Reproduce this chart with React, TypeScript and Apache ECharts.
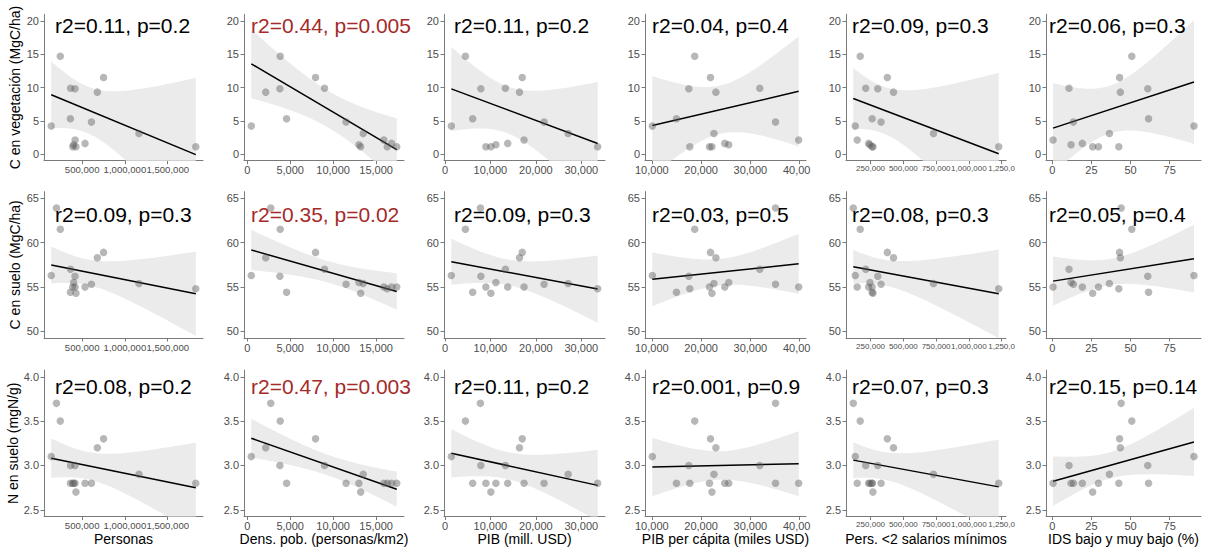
import React, { useEffect, useRef } from "react";
import * as echarts from "echarts";

// 16 alcaldías, same order in every array
const alcaldias = [
  "Milpa Alta", "Cuajimalpa", "Magdalena Contreras", "Tláhuac", "Tlalpan", "Xochimilco",
  "Álvaro Obregón", "Coyoacán", "Miguel Hidalgo", "Azcapotzalco", "Iztacalco",
  "Benito Juárez", "Venustiano Carranza", "Cuauhtémoc", "Gustavo A. Madero", "Iztapalapa",
];

// explanatory variables (x)
const personas = [138000, 199000, 244000, 362000, 677000, 416000, 750000, 608000, 364000, 400000, 390000, 417000, 427000, 533000, 1164000, 1828000];
const densidad = [470, 2740, 3840, 4580, 2150, 3800, 7950, 11500, 9000, 13000, 17400, 15900, 13200, 16800, 13500, 16300];
const pib = [1400, 7800, 4500, 6100, 16400, 7900, 17000, 21800, 13300, 11200, 9000, 17400, 10100, 13800, 27100, 33600];
const pibPerCapita = [10100, 35100, 18700, 15000, 23000, 17500, 21900, 35100, 31900, 25600, 21700, 39800, 22200, 24800, 22600, 17700];
const persMenos2 = [133000, 118000, 171000, 262000, 425000, 305000, 378000, 330000, 213000, 245000, 262000, 148000, 268000, 235000, 730000, 1228000];
const ids = [90.5, 44.0, 50.8, 61.5, 43.5, 61.0, 43.0, 13.5, 10.7, 12.0, 29.5, 0.5, 25.8, 19.2, 36.5, 42.5];

// response variables (y)
const cVegetacion = [4.2, 25.8, 14.7, 5.3, 9.3, 9.8, 11.5, 4.8, 9.9, 1.4, 1.1, 2.1, 1.1, 1.6, 3.1, 1.1];
const cSuelo = [56.3, 63.9, 61.5, 54.4, 58.3, 56.2, 58.9, 55.3, 57.0, 55.5, 55.0, 55.0, 54.3, 55.0, 55.4, 54.8];
const nSuelo = [3.1, 3.7, 3.5, 2.8, 3.2, 3.0, 3.3, 2.8, 3.0, 2.8, 2.8, 2.8, 2.7, 2.8, 2.9, 2.8];

// axis titles
const xTitles = ["Personas", "Dens. pob. (personas/km2)", "PIB (mill. USD)", "PIB per cápita (miles USD)", "Pers. <2 salarios mínimos", "IDS bajo y muy bajo (%)"];
const yTitles = ["C en vegetación (MgC/ha)", "C en suelo (MgC/ha)", "N en suelo (mgN/g)"];

// tick values
const xTicks = [
  [500000, 1000000, 1500000],
  [0, 5000, 10000, 15000],
  [0, 10000, 20000, 30000],
  [10000, 20000, 30000, 40000],
  [250000, 500000, 750000, 1000000, 1250000],
  [0, 25, 50, 75],
];
const yTicks = [
  [0, 5, 10, 15, 20],
  [50, 55, 60, 65],
  [2.5, 3.0, 3.5, 4.0],
];
const yLimits = [
  [0, 20],
  [50, 65],
  [2.5, 4.0],
];

// annotation labels per row (columns left to right)
const statLabels = [
  ["r2=0.11, p=0.2", "r2=0.44, p=0.005", "r2=0.11, p=0.2", "r2=0.04, p=0.4", "r2=0.09, p=0.3", "r2=0.06, p=0.3"],
  ["r2=0.09, p=0.3", "r2=0.35, p=0.02", "r2=0.09, p=0.3", "r2=0.03, p=0.5", "r2=0.08, p=0.3", "r2=0.05, p=0.4"],
  ["r2=0.08, p=0.2", "r2=0.47, p=0.003", "r2=0.11, p=0.2", "r2=0.001, p=0.9", "r2=0.07, p=0.3", "r2=0.15, p=0.14"],
];
const significant = [
  [false, true, false, false, false, false],
  [false, true, false, false, false, false],
  [false, true, false, false, false, false],
];

const xData = [personas, densidad, pib, pibPerCapita, persMenos2, ids];
const yData = [cVegetacion, cSuelo, nSuelo];

// layout (pixels)
const colLeft = [44, 244, 444, 645, 846, 1046];
const colRight = [203, 404, 605, 806, 1006, 1201];
const rowTop = [14.3, 191.6, 370.1];
const rowHeight = 146.4;
const textX = [55, 251, 454, 652, 852, 1049];
const textY = [25, 214, 386];
const xLabelSizes = [9.6, 11, 11, 11, 8, 11];

const FONT = "Liberation Sans, Arial, sans-serif";
const AXIS_COLOR = "#7a7a7a";
const LABEL_COLOR = "#4d4d4d";
const T_975_DF14 = 2.1448;

const fmtComma = (v: number) => Math.round(v).toLocaleString("en-US");

function linFit(xs: number[], ys: number[]) {
  const n = xs.length;
  const mx = xs.reduce((s, v) => s + v, 0) / n;
  const my = ys.reduce((s, v) => s + v, 0) / n;
  let sxx = 0;
  let sxy = 0;
  for (let i = 0; i < n; i++) {
    sxx += (xs[i] - mx) * (xs[i] - mx);
    sxy += (xs[i] - mx) * (ys[i] - my);
  }
  const b = sxy / sxx;
  const a = my - b * mx;
  let sse = 0;
  for (let i = 0; i < n; i++) {
    const r = ys[i] - a - b * xs[i];
    sse += r * r;
  }
  const s = Math.sqrt(sse / (n - 2));
  return { a, b, mx, sxx, s, n };
}

function buildOption() {
  const grid: any[] = [];
  const xAxis: any[] = [];
  const yAxis: any[] = [];
  const series: any[] = [];
  const graphic: any[] = [];

  for (let r = 0; r < 3; r++) {
    for (let c = 0; c < 6; c++) {
      const i = r * 6 + c;
      const xs = xData[c];
      const ys = yData[r];
      const xmin = Math.min(...xs);
      const xmax = Math.max(...xs);
      const pad = (xmax - xmin) * 0.05;
      const [ylo, yhi] = yLimits[r];
      const ypad = (yhi - ylo) * 0.05;

      grid.push({
        left: colLeft[c],
        top: rowTop[r],
        width: colRight[c] - colLeft[c],
        height: rowHeight,
        containLabel: false,
      });

      const xLabelSize = xLabelSizes[c];
      const xFormatter = (v: number) => {
        if (c === 3 && v === 40000) return "{clip4|40,00}";
        if (c === 4 && v === 1250000) return "1,250,0";
        return c === 5 ? String(v) : fmtComma(v);
      };

      // ticks split over two overlaid axes so touching labels are all kept
      const evenTicks = xTicks[c].filter((_, k) => k % 2 === 0);
      const oddTicks = xTicks[c].filter((_, k) => k % 2 === 1);

      const makeX = (ticks: number[], primary: boolean) => ({
        type: "value",
        gridIndex: i,
        position: "bottom",
        offset: 0,
        min: xmin - pad,
        max: xmax + pad,
        splitLine: { show: false },
        axisLine: { show: primary, onZero: false, lineStyle: { color: AXIS_COLOR, width: 1 } },
        axisTick: { show: true, length: 3.5, customValues: ticks, lineStyle: { color: AXIS_COLOR, width: 1 } },
        axisLabel: {
          customValues: ticks,
          formatter: xFormatter,
          fontSize: xLabelSize,
          color: LABEL_COLOR,
          fontFamily: FONT,
          margin: 4,
          interval: 0,
          hideOverlap: false,
          showMinLabel: true,
          showMaxLabel: true,
          rich: {
            clip4: { fontSize: 11, color: LABEL_COLOR, fontFamily: FONT, padding: [0, 6, 0, 0] },
          },
        },
        name: primary && r === 2 ? xTitles[c] : "",
        nameLocation: "middle",
        nameGap: 15,
        nameTextStyle: { fontSize: 14, color: "#000", fontFamily: FONT },
      });

      xAxis.push(makeX(evenTicks, true));
      xAxis.push(makeX(oddTicks, false));
      const xi = 2 * i;

      yAxis.push({
        type: "value",
        gridIndex: i,
        min: ylo - ypad,
        max: yhi + ypad,
        splitLine: { show: false },
        axisLine: { show: true, onZero: false, lineStyle: { color: AXIS_COLOR, width: 1 } },
        axisTick: { show: true, length: 3.5, customValues: yTicks[r], lineStyle: { color: AXIS_COLOR, width: 1 } },
        axisLabel: {
          customValues: yTicks[r],
          formatter: (v: number) => (r === 2 ? v.toFixed(1) : String(v)),
          fontSize: 11,
          color: LABEL_COLOR,
          fontFamily: FONT,
          margin: 5,
          showMinLabel: true,
          showMaxLabel: true,
        },
        name: c === 0 ? yTitles[r] : "",
        nameLocation: "middle",
        nameGap: 22,
        nameTextStyle: { fontSize: 14, color: "#000", fontFamily: FONT },
      });

      // linear fit with 95% confidence band (as geom_smooth(method = "lm"))
      const fit = linFit(xs, ys);
      const N = 80;
      const upper: number[][] = [];
      const lower: number[][] = [];
      for (let k = 0; k < N; k++) {
        const x = xmin + ((xmax - xmin) * k) / (N - 1);
        const yh = fit.a + fit.b * x;
        const se = fit.s * Math.sqrt(1 / fit.n + ((x - fit.mx) * (x - fit.mx)) / fit.sxx);
        upper.push([x, yh + T_975_DF14 * se]);
        lower.push([x, yh - T_975_DF14 * se]);
      }
      const poly = upper.concat(lower.slice().reverse());

      series.push({
        type: "custom",
        xAxisIndex: xi,
        yAxisIndex: i,
        clip: true,
        silent: true,
        z: 1,
        data: [[xmin, fit.a + fit.b * xmin]],
        renderItem: (_p: any, api: any) => ({
          type: "polygon",
          shape: { points: poly.map((p) => api.coord(p)) },
          style: { fill: "#EBEBEB", stroke: "none" },
        }),
      });

      series.push({
        type: "line",
        xAxisIndex: xi,
        yAxisIndex: i,
        data: [
          [xmin, fit.a + fit.b * xmin],
          [xmax, fit.a + fit.b * xmax],
        ],
        symbol: "none",
        lineStyle: { color: "#000", width: 1.5 },
        clip: true,
        silent: true,
        z: 2,
      });

      series.push({
        type: "scatter",
        name: `${yTitles[r]} vs ${xTitles[c]}`,
        xAxisIndex: xi,
        yAxisIndex: i,
        data: xs.map((x, k) => ({ value: [x, ys[k]], name: alcaldias[k] })),
        symbolSize: 7.5,
        itemStyle: { color: "rgba(90,90,90,0.55)" },
        clip: true,
        z: 3,
      });

      graphic.push({
        type: "text",
        x: textX[c],
        y: textY[r],
        z: 100,
        style: {
          text: statLabels[r][c],
          fill: significant[r][c] ? "#A52A2A" : "#000",
          font: `21px ${FONT}`,
          align: "left",
          verticalAlign: "middle",
        },
      });
    }
  }

  return {
    animation: false,
    backgroundColor: "#fff",
    grid,
    xAxis,
    yAxis,
    series,
    graphic,
  };
}

export default function App() {
  const ref = useRef<HTMLDivElement>(null);
  useEffect(() => {
    if (!ref.current) return;
    const chart = echarts.init(ref.current, null, { renderer: "svg" });
    chart.setOption(buildOption() as any);
    return () => chart.dispose();
  }, []);
  return (
    <div
      ref={ref}
      style={{ position: "absolute", left: 0, top: 0, width: 1211, height: 549, background: "#fff" }}
    />
  );
}
